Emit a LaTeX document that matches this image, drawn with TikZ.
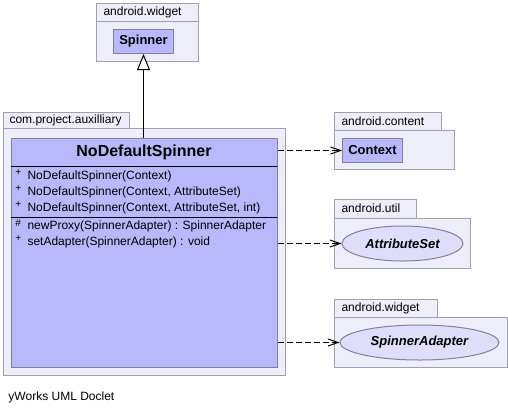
\documentclass[tikz,border=0pt]{standalone}
\usepackage{fontspec}
\setmainfont{Liberation Sans}
\usepackage{tikz}
\usetikzlibrary{positioning}
\usepgflibrary{arrows.meta,shapes.geometric}
\definecolor{pkgfill}{RGB}{238,238,250}
\definecolor{pkgline}{RGB}{160,160,176}
\definecolor{clsfill}{RGB}{184,184,250}
\definecolor{clsline}{RGB}{128,128,160}
\definecolor{ifcfill}{RGB}{222,222,250}
\tikzset{
  pkg/.style={draw=pkgline, fill=pkgfill},
  pkgname/.style={anchor=west, inner sep=0pt, font=\fontsize{12}{14}\selectfont},
  cls/.style={draw=clsline, fill=clsfill, anchor=north west, inner sep=0pt, font=\fontsize{13}{15}\selectfont\bfseries},
  ifc/.style={ellipse, draw=clsline, fill=ifcfill, inner sep=0pt, font=\fontsize{13}{15}\selectfont\bfseries\itshape},
  member/.style={anchor=west, inner sep=0pt, font=\fontsize{12}{14}\selectfont},
  vis/.style={anchor=west, inner sep=0pt, font=\fontsize{10}{12}\selectfont},
  depends/.style={dash pattern=on 6pt off 3pt, -{Straight Barb[length=10pt,width=7pt]}},
  extends/.style={-{Triangle[open,length=16pt,width=13pt,fill=white]}},
}
\begin{document}
\begin{tikzpicture}[x=1pt,y=-1pt,line width=1pt]
      \useasboundingbox[fill=white] (0,0) rectangle (508,413);
      % android.widget (top)
      \draw[pkg] (96,3) rectangle (198,21);
      \draw[pkg] (96,21) rectangle (198,61);
      \node[pkgname] (widgettop) at (103,12) {android.widget};
      \node[cls, minimum width=60pt, minimum height=24pt] (spinner) at (113,29) {Spinner};
      % com.project.auxilliary
      \draw[pkg] (3,112) rectangle (129,128);
      \draw[pkg] (3,128) rectangle (285,375);
      \node[pkgname] (auxname) at (9,120) {com.project.auxilliary};
      \node[cls, minimum width=266pt, minimum height=229pt] (nds) at (11,138) {};
      \draw (11,166) -- (277,166);
      \draw (11,217) -- (277,217);
      \node[font=\fontsize{16}{18}\selectfont\bfseries] (ndsname) at (144,152) {NoDefaultSpinner};
      \node[vis] (v1) at (15,173) {+};
      \node[member] (c1) at (27,176) {NoDefaultSpinner(Context)};
      \node[vis] (v2) at (15,189) {+};
      \node[member] (c2) at (27,192) {NoDefaultSpinner(Context, AttributeSet)};
      \node[vis] (v3) at (15,205) {+};
      \node[member] (c3) at (27,208) {NoDefaultSpinner(Context, AttributeSet, int)};
      \node[vis] (v4) at (15,223) {\#};
      \node[member] (m1) at (27,226) {newProxy(SpinnerAdapter) : SpinnerAdapter};
      \node[vis] (v5) at (15,239) {+};
      \node[member] (m2) at (27,242) {setAdapter(SpinnerAdapter) : void};
      % android.content
      \draw[pkg] (334,112) rectangle (441,130);
      \draw[pkg] (334,130) rectangle (454,169);
      \node[pkgname] (contentname) at (341,121) {android.content};
      \node[cls, minimum width=60pt, minimum height=24pt] (context) at (342,138) {Context};
      % android.util
      \draw[pkg] (334,199) rectangle (416,218);
      \draw[pkg] (334,218) rectangle (470,268);
      \node[pkgname] (utilname) at (341,208) {android.util};
      \node[ifc, minimum width=121pt, minimum height=35pt] (attrset) at (402.5,243.5) {AttributeSet};
      % android.widget (right)
      \draw[pkg] (334,299) rectangle (437,317);
      \draw[pkg] (334,317) rectangle (507,367);
      \node[pkgname] (widgetright) at (341,308) {android.widget};
      \node[ifc, minimum width=159pt, minimum height=35pt] (adapter) at (419.5,342.5) {SpinnerAdapter};
      % connectors
      \draw[extends] (nds.north -| spinner.south) -- (spinner.south);
      \draw[depends] (nds.east |- context.west) -- (context.west);
      \draw[depends] (nds.east |- attrset.west) -- (attrset.west);
      \draw[depends] (nds.east |- adapter.west) -- (adapter.west);
      \node[member] (doclet) at (8,397) {yWorks UML Doclet};
    \end{tikzpicture}
\end{document}
